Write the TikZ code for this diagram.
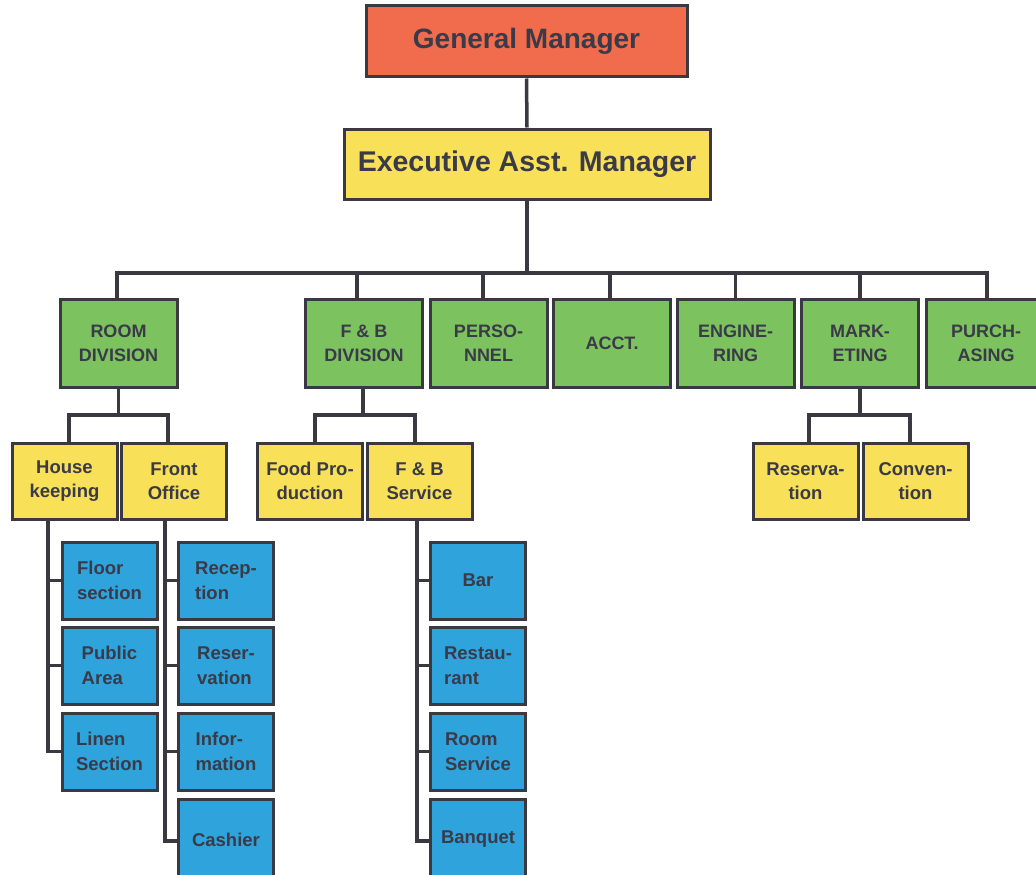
\documentclass[tikz,border=0pt]{standalone}
\usepackage{fontspec}
\setmainfont{Liberation Sans}
\definecolor{linec}{HTML}{3A3840}
\definecolor{textc}{HTML}{3A3A48}
\definecolor{gmfill}{HTML}{F06C4C}
\definecolor{yfill}{HTML}{F8E058}
\definecolor{gfill}{HTML}{7CC25E}
\definecolor{bfill}{HTML}{2EA3DC}
\begin{document}
\begin{tikzpicture}[x=1pt,y=-1pt,
  box/.style={draw=linec, line width=3pt, inner sep=0pt, text=textc, align=center},
  topbox/.style={box, font=\bfseries\fontsize{28}{30}\selectfont},
  greenbox/.style={box, fill=gfill, minimum width=117pt, minimum height=88pt, font=\bfseries\fontsize{18}{24}\selectfont},
  yellowbox/.style={box, fill=yfill, minimum width=105pt, minimum height=76pt, font=\bfseries\fontsize{18.5}{24}\selectfont},
  bluebox/.style={box, fill=bfill, minimum width=95pt, minimum height=77pt, align=left, font=\bfseries\fontsize{18.5}{25}\selectfont},
  conn/.style={draw=linec, line width=3.5pt}]
\useasboundingbox (0,0) rectangle (1036,875);
\fill[white] (0,0) rectangle (1036,875);
% top
\node[topbox, fill=gmfill, minimum width=321pt, minimum height=71pt] (gm) at (526.5,41.5) {General Manager};
\node[topbox, fill=yfill, minimum width=366pt, minimum height=70pt, font=\bfseries\fontsize{28.5}{30}\selectfont] (exec) at (527,164) {Executive Asst. Manager};
% divisions
\node[greenbox] (room) at (118.5,343) {ROOM\\DIVISION};
\node[greenbox] (fb) at (364,343) {F \& B\\DIVISION};
\node[greenbox] (pers) at (488.5,343) {PERSO-\\NNEL};
\node[greenbox] (acct) at (612,343) {ACCT.};
\node[greenbox] (eng) at (735.5,343) {ENGINE-\\RING};
\node[greenbox] (mkt) at (860,343) {MARK-\\ETING};
\node[greenbox, minimum width=120pt] (purch) at (986,343) {PURCH-\\ASING};
% second level
\node[yellowbox] (hk) at (64.5,481) {House\\keeping};
\node[yellowbox] (fo) at (174,481) {Front\\Office};
\node[yellowbox] (fp) at (310,481) {Food Pro-\\duction};
\node[yellowbox] (fbs) at (419.5,481) {F \& B\\Service};
\node[yellowbox] (res) at (805.5,481) {Reserva-\\tion};
\node[yellowbox] (conv) at (915.5,481) {Conven-\\tion};
% third level
\node[bluebox] (b11) at (109.5,580.5) {Floor\\section};
\node[bluebox] (b12) at (109.5,665.5) {Public\\Area};
\node[bluebox] (b13) at (109.5,751.5) {Linen\\Section};
\node[bluebox] (b21) at (226,580.5) {Recep-\\tion};
\node[bluebox] (b22) at (226,665.5) {Reser-\\vation};
\node[bluebox] (b23) at (226,751.5) {Infor-\\mation};
\node[bluebox, minimum height=81pt] (b24) at (226,839.5) {Cashier};
\node[bluebox] (b31) at (478,580.5) {Bar};
\node[bluebox] (b32) at (478,665.5) {Restau-\\rant};
\node[bluebox] (b33) at (478,751.5) {Room\\Service};
\node[bluebox, minimum height=81pt] (b34) at (478,839.5) {Banquet};
% connectors: top
\coordinate (bus) at (0,273);
\coordinate (lvl) at (0,415);
\draw[conn] (gm.south) -- (exec.north);
\draw[conn] (exec.south) -- (exec.south |- bus);
\draw[conn] ([xshift=-1.5pt]room.north) -- ([xshift=-1.5pt]room.north |- bus) -- ([xshift=1pt]purch.north |- bus) -- ([xshift=1pt]purch.north);
\draw[conn] ([xshift=-7pt]fb.north) -- ([xshift=-7pt]fb.north |- bus);
\draw[conn] ([xshift=-5.5pt]pers.north) -- ([xshift=-5.5pt]pers.north |- bus);
\draw[conn] ([xshift=-2pt]acct.north) -- ([xshift=-2pt]acct.north |- bus);
\draw[conn] (eng.north) -- (eng.north |- bus);
\draw[conn] (mkt.north) -- (mkt.north |- bus);
% second level connectors
\draw[conn] (room.south) -- (room.south |- lvl);
\draw[conn] ([xshift=4.5pt]hk.north) -- ([xshift=4.5pt]hk.north |- lvl) -- ([xshift=-6pt]fo.north |- lvl) -- ([xshift=-6pt]fo.north);
\draw[conn] ([xshift=-1pt]fb.south) -- ([xshift=-1pt]fb.south |- lvl);
\draw[conn] ([xshift=5pt]fp.north) -- ([xshift=5pt]fp.north |- lvl) -- ([xshift=-4.5pt]fbs.north |- lvl) -- ([xshift=-4.5pt]fbs.north);
\draw[conn] (mkt.south) -- (mkt.south |- lvl);
\draw[conn] ([xshift=3.5pt]res.north) -- ([xshift=3.5pt]res.north |- lvl) -- ([xshift=-5.5pt]conv.north |- lvl) -- ([xshift=-5.5pt]conv.north);
% third level connectors
\coordinate (hkx) at ([xshift=-16.5pt]hk.south);
\coordinate (fox) at ([xshift=-9pt]fo.south);
\coordinate (fbsx) at ([xshift=-2.5pt]fbs.south);
\draw[conn] (hkx) |- (b13.west);
\draw[conn] (b11.west) -- (b11.west -| hkx);
\draw[conn] (b12.west) -- (b12.west -| hkx);
\draw[conn] (fox) |- ([yshift=-1.5pt]b24.west);
\draw[conn] (b21.west) -- (b21.west -| fox);
\draw[conn] (b22.west) -- (b22.west -| fox);
\draw[conn] (b23.west) -- (b23.west -| fox);
\draw[conn] (fbsx) |- ([yshift=-1.5pt]b34.west);
\draw[conn] (b31.west) -- (b31.west -| fbsx);
\draw[conn] (b32.west) -- (b32.west -| fbsx);
\draw[conn] (b33.west) -- (b33.west -| fbsx);
\end{tikzpicture}
\end{document}
